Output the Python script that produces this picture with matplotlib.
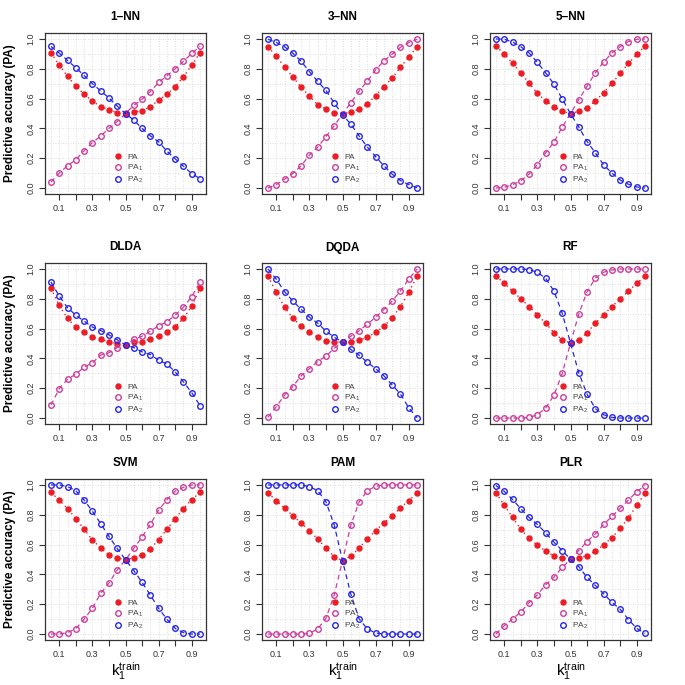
import matplotlib.pyplot as plt

plt.rcParams['font.family'] = ['Liberation Sans', 'DejaVu Sans']
plt.rcParams['mathtext.fontset'] = 'custom'
plt.rcParams['mathtext.rm'] = 'Liberation Sans'
plt.rcParams['mathtext.it'] = 'Liberation Sans:italic'

# fraction of class 1 in the training set
k1 = [0.05, 0.10, 0.15, 0.20, 0.25, 0.30, 0.35, 0.40, 0.45, 0.50,
      0.55, 0.60, 0.65, 0.70, 0.75, 0.80, 0.85, 0.90, 0.95]

titles = ['1–NN', '3–NN', '5–NN', 'DLDA', 'DQDA', 'RF', 'SVM', 'PAM', 'PLR']

pa_1nn = [0.908, 0.825, 0.750, 0.683, 0.629, 0.584, 0.546, 0.526, 0.503, 0.501,
          0.512, 0.517, 0.546, 0.589, 0.629, 0.681, 0.746, 0.825, 0.908]
pa1_1nn = [0.040, 0.100, 0.150, 0.190, 0.250, 0.305, 0.348, 0.400, 0.445, 0.500,
           0.555, 0.595, 0.647, 0.708, 0.753, 0.800, 0.850, 0.903, 0.950]
pa2_1nn = [0.950, 0.905, 0.856, 0.807, 0.755, 0.700, 0.652, 0.604, 0.550, 0.500,
           0.456, 0.400, 0.350, 0.310, 0.247, 0.196, 0.146, 0.097, 0.063]

pa_3nn = [0.948, 0.885, 0.813, 0.745, 0.677, 0.616, 0.560, 0.530, 0.503, 0.500,
          0.508, 0.530, 0.564, 0.620, 0.680, 0.738, 0.810, 0.878, 0.948]
pa1_3nn = [0.000, 0.023, 0.059, 0.097, 0.149, 0.220, 0.273, 0.345, 0.418, 0.497,
           0.571, 0.650, 0.718, 0.792, 0.853, 0.898, 0.944, 0.975, 0.998]
pa2_3nn = [0.998, 0.977, 0.948, 0.905, 0.851, 0.781, 0.716, 0.655, 0.571, 0.492,
           0.429, 0.350, 0.275, 0.210, 0.149, 0.093, 0.050, 0.023, 0.002]

pa_5nn = [0.953, 0.899, 0.838, 0.771, 0.703, 0.636, 0.584, 0.546, 0.515, 0.499,
          0.515, 0.539, 0.584, 0.640, 0.703, 0.769, 0.836, 0.897, 0.953]
pa1_5nn = [0.000, 0.005, 0.022, 0.049, 0.094, 0.157, 0.236, 0.308, 0.409, 0.499,
           0.593, 0.683, 0.773, 0.845, 0.906, 0.948, 0.982, 0.998, 1.000]
pa2_5nn = [1.000, 0.998, 0.980, 0.948, 0.906, 0.843, 0.773, 0.697, 0.598, 0.499,
           0.409, 0.312, 0.236, 0.155, 0.101, 0.054, 0.025, 0.007, 0.000]

pa_dlda = [0.870, 0.756, 0.668, 0.610, 0.574, 0.543, 0.529, 0.511, 0.500, 0.493,
           0.507, 0.511, 0.529, 0.552, 0.576, 0.614, 0.668, 0.751, 0.870]
pa1_dlda = [0.087, 0.197, 0.260, 0.294, 0.341, 0.370, 0.422, 0.437, 0.473, 0.491,
            0.527, 0.549, 0.583, 0.619, 0.646, 0.690, 0.744, 0.814, 0.913]
pa2_dlda = [0.913, 0.818, 0.740, 0.690, 0.650, 0.610, 0.587, 0.558, 0.525, 0.491,
            0.473, 0.444, 0.426, 0.388, 0.363, 0.309, 0.242, 0.170, 0.083]

pa_dqda = [0.952, 0.844, 0.744, 0.669, 0.619, 0.574, 0.544, 0.517, 0.510, 0.510,
           0.510, 0.522, 0.542, 0.574, 0.617, 0.671, 0.748, 0.844, 0.952]
pa1_dqda = [0.005, 0.075, 0.154, 0.211, 0.283, 0.331, 0.379, 0.415, 0.467, 0.510,
            0.549, 0.585, 0.630, 0.676, 0.728, 0.785, 0.853, 0.932, 1.000]
pa2_dqda = [1.000, 0.932, 0.848, 0.785, 0.730, 0.676, 0.637, 0.583, 0.542, 0.510,
            0.460, 0.422, 0.374, 0.331, 0.283, 0.222, 0.161, 0.068, 0.002]

pa_rf = [0.953, 0.903, 0.852, 0.800, 0.748, 0.692, 0.636, 0.573, 0.524, 0.503,
         0.524, 0.573, 0.636, 0.692, 0.748, 0.800, 0.852, 0.903, 0.953]
pa1_rf = [0.000, 0.000, 0.000, 0.000, 0.004, 0.022, 0.067, 0.153, 0.299, 0.503,
          0.697, 0.847, 0.939, 0.978, 0.993, 1.000, 1.000, 1.000, 1.000]
pa2_rf = [1.000, 1.000, 1.000, 1.000, 0.996, 0.978, 0.937, 0.852, 0.703, 0.503,
          0.303, 0.160, 0.063, 0.022, 0.004, 0.000, 0.000, 0.000, 0.000]

pa_svm = [0.950, 0.899, 0.842, 0.775, 0.703, 0.631, 0.577, 0.532, 0.511, 0.498,
          0.511, 0.532, 0.572, 0.633, 0.703, 0.775, 0.842, 0.901, 0.950]
pa1_svm = [0.000, 0.000, 0.009, 0.036, 0.099, 0.173, 0.273, 0.342, 0.430, 0.498,
           0.574, 0.651, 0.736, 0.831, 0.901, 0.959, 0.984, 1.000, 1.000]
pa2_svm = [1.000, 1.000, 0.989, 0.962, 0.899, 0.824, 0.741, 0.655, 0.574, 0.498,
           0.426, 0.347, 0.261, 0.173, 0.099, 0.038, 0.009, 0.000, 0.000]

pa_pam = [0.946, 0.895, 0.846, 0.794, 0.745, 0.694, 0.638, 0.575, 0.519, 0.492,
          0.523, 0.575, 0.638, 0.694, 0.745, 0.794, 0.846, 0.895, 0.946]
pa1_pam = [0.000, 0.000, 0.000, 0.000, 0.000, 0.004, 0.034, 0.105, 0.262, 0.492,
           0.729, 0.886, 0.962, 0.991, 1.000, 1.000, 1.000, 1.000, 1.000]
pa2_pam = [1.000, 1.000, 1.000, 1.000, 1.000, 0.989, 0.962, 0.888, 0.732, 0.492,
           0.268, 0.103, 0.034, 0.007, 0.000, 0.000, 0.000, 0.000, 0.000]

pa_plr = [0.946, 0.865, 0.782, 0.703, 0.643, 0.596, 0.557, 0.524, 0.510, 0.501,
          0.512, 0.526, 0.555, 0.598, 0.647, 0.708, 0.780, 0.863, 0.946]
pa1_plr = [0.000, 0.056, 0.101, 0.148, 0.211, 0.263, 0.330, 0.382, 0.447, 0.501,
           0.560, 0.620, 0.672, 0.735, 0.789, 0.843, 0.899, 0.955, 0.996]
pa2_plr = [0.996, 0.957, 0.903, 0.840, 0.782, 0.735, 0.679, 0.616, 0.560, 0.501,
           0.452, 0.380, 0.326, 0.270, 0.213, 0.166, 0.097, 0.038, 0.004]

panels = [(pa_1nn, pa1_1nn, pa2_1nn), (pa_3nn, pa1_3nn, pa2_3nn),
          (pa_5nn, pa1_5nn, pa2_5nn), (pa_dlda, pa1_dlda, pa2_dlda),
          (pa_dqda, pa1_dqda, pa2_dqda), (pa_rf, pa1_rf, pa2_rf),
          (pa_svm, pa1_svm, pa2_svm), (pa_pam, pa1_pam, pa2_pam),
          (pa_plr, pa1_plr, pa2_plr)]

red = '#ee1c24'
mag = '#cc3d9e'
blue = '#2626e6'

W = 685.0
col_left = [45, 262, 490]
row_top = [33, 263, 479]
box = 161

fig = plt.figure(figsize=(6.85, 6.85), dpi=100)

for i in range(9):
    r, c = divmod(i, 3)
    pa, pa1, pa2 = panels[i]
    ax = fig.add_axes([col_left[c] / W, 1 - (row_top[r] + box) / W, box / W, box / W])
    # dotted grid
    for g in k1:
        ax.axvline(g, color='#d4d4d4', lw=0.6, ls=(0, (1, 2)), zorder=0)
    for g in [j / 10 for j in range(11)]:
        ax.axhline(g, color='#d4d4d4', lw=0.6, ls=(0, (1, 2)), zorder=0)

    ax.plot(k1, pa, color=red, ls=(0, (1, 2.5)), lw=1.0, marker='o', ms=3.6,
            mfc=red, mec=red, label='PA')
    ax.plot(k1, pa1, color=mag, ls=(0, (4, 3)), lw=0.9, marker='o', ms=4.0,
            mfc='none', mec=mag, mew=1.0, label='PA$_1$')
    ax.plot(k1, pa2, color=blue, ls=(0, (4, 3)), lw=0.9, marker='o', ms=4.0,
            mfc='none', mec=blue, mew=1.0, label='PA$_2$')

    ax.set_xlim(0.014, 0.986)
    ax.set_ylim(-0.04, 1.04)
    ax.set_xticks([j / 10 for j in range(1, 10)])
    ax.set_xticklabels(['0.1', '', '0.3', '', '0.5', '', '0.7', '', '0.9'])
    ax.set_yticks([0, 0.2, 0.4, 0.6, 0.8, 1.0])
    ax.set_yticklabels(['0.0', '0.2', '0.4', '0.6', '0.8', '1.0'],
                       rotation=90, va='center')
    ax.tick_params(labelsize=6.5, length=4, width=0.8, colors='#333333', pad=3)
    for s in ax.spines.values():
        s.set_color('#333333')
        s.set_linewidth(0.9)

    ax.set_title(titles[i], fontsize=8.5, fontweight='bold', pad=9)
    if c == 0:
        ax.set_ylabel('Predictive accuracy (PA)', fontsize=8.5, fontweight='bold')
        ax.yaxis.set_label_coords(-0.18, 0.5)
    if r == 2:
        ax.set_xlabel(r'$\mathrm{k}_1^{\mathrm{train}}$', fontsize=11)
        ax.xaxis.set_label_coords(0.5, -0.125)

    leg = ax.legend(loc='lower left', bbox_to_anchor=(0.40, 0.03), frameon=False,
                    fontsize=6, handlelength=1.0, handletextpad=0.6,
                    labelspacing=0.2, borderpad=0, numpoints=1)
    for t in leg.get_texts():
        t.set_color('#444444')
    for h in leg.legend_handles:
        h.set_linestyle('none')

plt.savefig('out.png', dpi=100)
